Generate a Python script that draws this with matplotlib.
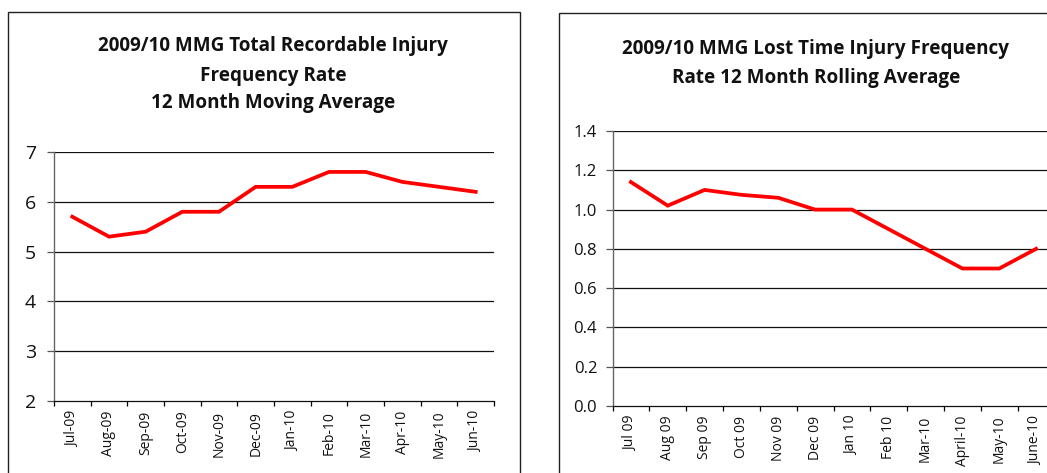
import matplotlib
matplotlib.use("Agg")
import matplotlib.pyplot as plt
from matplotlib.patches import Rectangle
from matplotlib.ticker import FixedLocator, NullFormatter

plt.rcParams['font.family'] = ['Open Sans', 'DejaVu Sans']

W, H = 1047, 473

# left chart data
trifr_months = ["Jul-09", "Aug-09", "Sep-09", "Oct-09", "Nov-09", "Dec-09",
                "Jan-10", "Feb-10", "Mar-10", "Apr-10", "May-10", "Jun-10"]
trifr_values = [5.7, 5.3, 5.4, 5.8, 5.8, 6.3, 6.3, 6.6, 6.6, 6.4, 6.3, 6.2]
trifr_yticks = [2, 3, 4, 5, 6, 7]

# right chart data
ltifr_months = ["Jul 09", "Aug 09", "Sep 09", "Oct 09", "Nov 09", "Dec 09",
                "Jan 10", "Feb 10", "Mar-10", "April-10", "May-10", "June-10"]
ltifr_values = [1.14, 1.02, 1.10, 1.075, 1.06, 1.0, 1.0, 0.9, 0.8, 0.7, 0.7, 0.8]
ltifr_yticks = [0.0, 0.2, 0.4, 0.6, 0.8, 1.0, 1.2, 1.4]


def px_axes(fig, x0, y0, x1, y1):
    # pixel box (top-left origin) -> figure fraction axes
    return fig.add_axes([x0 / W, 1 - y1 / H, (x1 - x0) / W, (y1 - y0) / H])


def style_chart(ax, labels, values, yticks, fmt, pad, ysize):
    n = len(labels)
    ax.plot(range(n), values, color="#ff0000", lw=2.7, solid_joinstyle="miter", zorder=3)
    ax.set_xlim(-0.5, n - 0.5)
    ax.set_ylim(yticks[0], yticks[-1])
    ax.set_yticks(yticks)
    ax.set_yticklabels([fmt.format(v) for v in yticks])
    ax.xaxis.set_major_locator(FixedLocator([i - 0.5 for i in range(n + 1)]))
    ax.xaxis.set_major_formatter(NullFormatter())
    ax.xaxis.set_minor_locator(FixedLocator(list(range(n))))
    ax.set_xticklabels(labels, minor=True, rotation=90, fontsize=10)
    ax.tick_params(axis="x", which="minor", length=0, pad=7, labelcolor="#111111")
    ax.tick_params(axis="x", which="major", length=3.5, width=0.9, direction="out")
    ax.tick_params(axis="y", length=5, width=0.9, direction="out", pad=pad,
                   labelsize=ysize, colors="#555555", labelcolor="#111111")
    for yv in yticks[1:]:
        ax.axhline(yv, color="#111111", lw=0.9, zorder=1)
    for s in ["top", "right"]:
        ax.spines[s].set_visible(False)
    ax.spines["left"].set_color("#666666")
    ax.spines["left"].set_linewidth(1.0)
    ax.spines["bottom"].set_color("#111111")
    ax.spines["bottom"].set_linewidth(0.9)


fig = plt.figure(figsize=(W / 100, H / 100), dpi=100)

# chart frames
fig.patches.append(Rectangle((8 / W, -0.1), (520 - 8) / W, 1.1 - 12 / H,
                             transform=fig.transFigure, fill=False,
                             edgecolor="#222222", lw=1.0))
fig.patches.append(Rectangle((559 / W, -0.1), 0.6, 1.1 - 13 / H,
                             transform=fig.transFigure, fill=False,
                             edgecolor="#222222", lw=1.0))

ax1 = px_axes(fig, 54, 152, 494, 401)
style_chart(ax1, trifr_months, trifr_values, trifr_yticks, "{:d}", 8, 14)

ax2 = px_axes(fig, 612.5, 131, 1054.5, 406)
style_chart(ax2, ltifr_months, ltifr_values, ltifr_yticks, "{:.1f}", 6, 12)

title_kw = dict(ha="center", va="center", fontsize=13.6, fontweight="bold", color="#111111")
fig.text(273 / W, 1 - 46 / H, "2009/10 MMG Total Recordable Injury", **title_kw)
fig.text(273 / W, 1 - 76 / H, "Frequency Rate", **title_kw)
fig.text(273 / W, 1 - 103 / H, "12 Month Moving Average", **title_kw)
fig.text(816 / W, 1 - 49 / H, "2009/10 MMG Lost Time Injury Frequency", **title_kw)
fig.text(816 / W, 1 - 78 / H, "Rate 12 Month Rolling Average", **title_kw)

fig.savefig("out.png", dpi=100)
